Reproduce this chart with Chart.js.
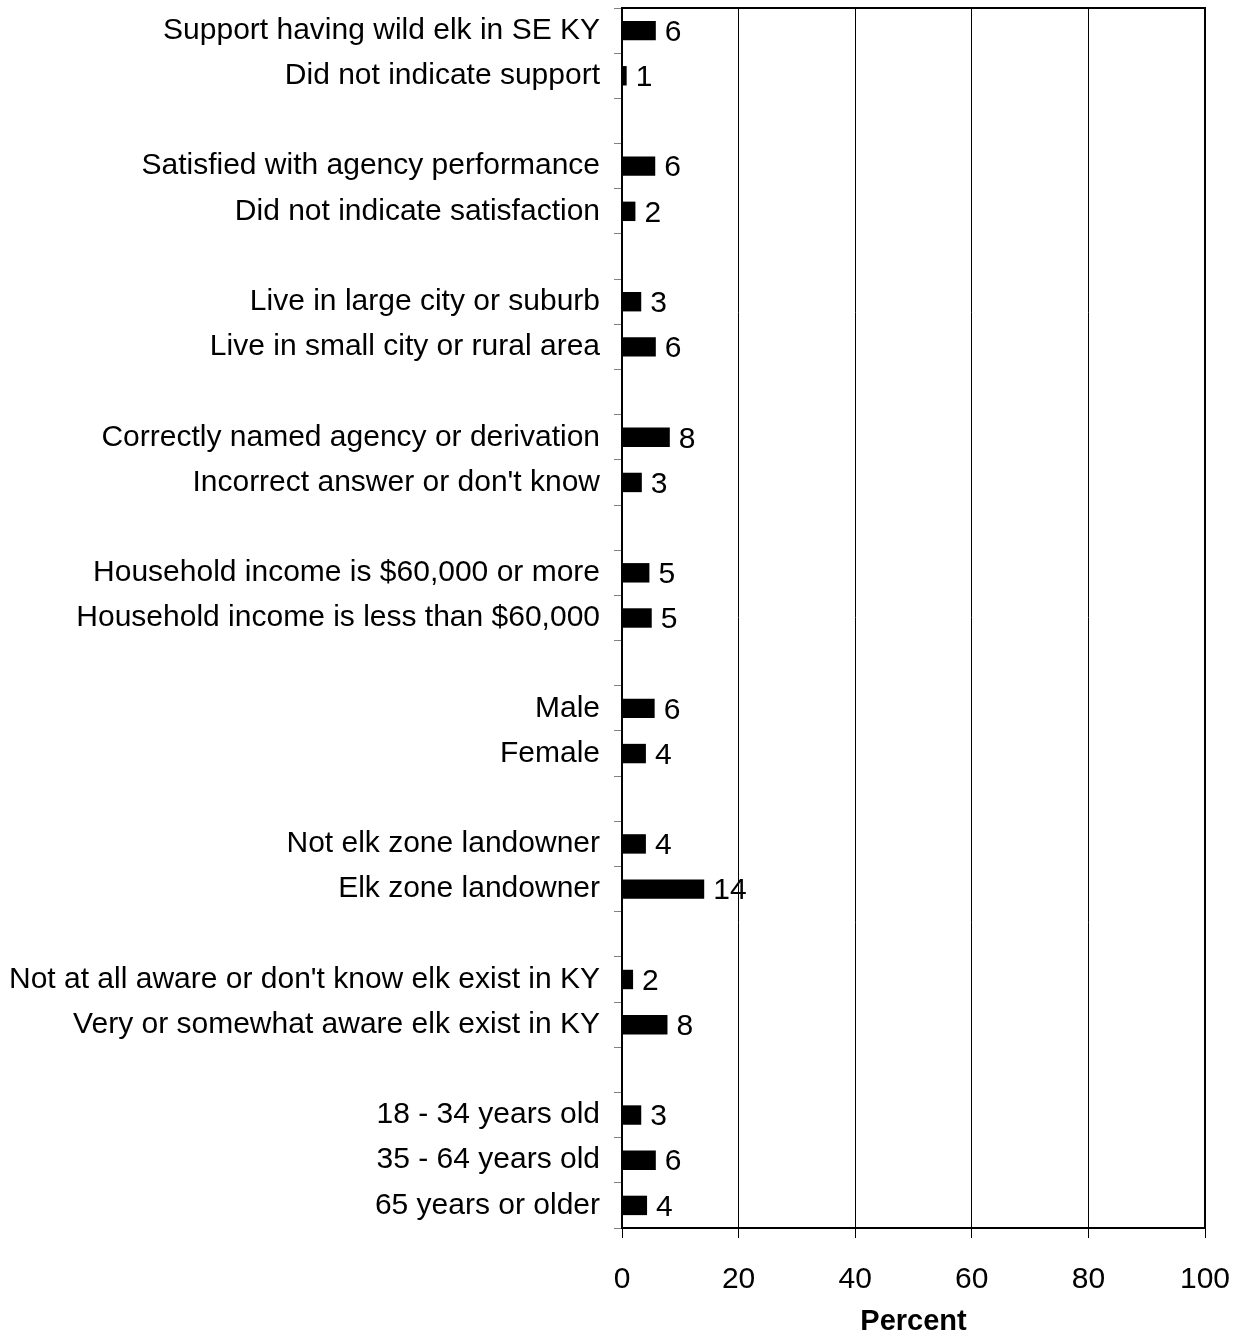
<!DOCTYPE html>
<html>
<head>
<meta charset="utf-8">
<script src="https://cdn.jsdelivr.net/npm/chart.js@4/dist/chart.umd.min.js"></script>
<style>
  html, body { margin:0; padding:0; background:#fff; }
  #wrap { width:1242px; height:1336px; position:relative; }
</style>
</head>
<body>
<div id="wrap"><canvas id="elkChart"></canvas></div>
<script>
// blank strings are the empty spacer rows between groups
const categories = [
  'Support having wild elk in SE KY', 'Did not indicate support', '',
  'Satisfied with agency performance', 'Did not indicate satisfaction', '',
  'Live in large city or suburb', 'Live in small city or rural area', '',
  'Correctly named agency or derivation', "Incorrect answer or don't know", '',
  'Household income is $60,000 or more', 'Household income is less than $60,000', '',
  'Male', 'Female', '',
  'Not elk zone landowner', 'Elk zone landowner', '',
  "Not at all aware or don't know elk exist in KY", 'Very or somewhat aware elk exist in KY', '',
  '18 - 34 years old', '35 - 64 years old', '65 years or older'
];
const percents = [
  5.8, 0.8, null,
  5.7, 2.3, null,
  3.3, 5.8, null,
  8.2, 3.4, null,
  4.7, 5.1, null,
  5.6, 4.1, null,
  4.1, 14.1, null,
  1.9, 7.8, null,
  3.3, 5.8, 4.3
];
const xTicks = [0, 20, 40, 60, 80, 100];

const FONT = 'Liberation Sans, Arial, Helvetica, sans-serif';
const FS = 30;

const valueLabels = {
  id: 'valueLabels',
  afterDatasetsDraw(chart) {
    const ctx = chart.ctx;
    const meta = chart.getDatasetMeta(0);
    ctx.save();
    ctx.font = FS + 'px ' + FONT;
    ctx.fillStyle = '#000';
    ctx.textAlign = 'left';
    ctx.textBaseline = 'middle';
    meta.data.forEach((bar, i) => {
      if (percents[i] == null) return;
      ctx.fillText(Math.round(percents[i]), bar.x + 9, bar.y + 2);
    });
    ctx.restore();
  }
};

const frame = {
  id: 'frame',
  afterDraw(chart) {
    const a = chart.chartArea;
    const ctx = chart.ctx;
    ctx.save();
    ctx.strokeStyle = '#000';
    ctx.lineWidth = 2;
    ctx.beginPath();
    ctx.moveTo(a.left, a.top);
    ctx.lineTo(a.right, a.top);
    ctx.lineTo(a.right, a.bottom);
    ctx.stroke();
    ctx.restore();
  }
};

new Chart(document.getElementById('elkChart'), {
  type: 'bar',
  data: {
    labels: categories,
    datasets: [{
      data: percents,
      backgroundColor: '#000',
      borderWidth: 0,
      barPercentage: 0.43,
      categoryPercentage: 1
    }]
  },
  options: {
    indexAxis: 'y',
    responsive: true,
    maintainAspectRatio: false,
    animation: false,
    layout: { padding: { top: 8, right: 37, left: 0, bottom: 0 } },
    plugins: { legend: { display: false }, tooltip: { enabled: false } },
    scales: {
      x: {
        min: 0, max: 100,
        afterBuildTicks: s => { s.ticks = xTicks.map(v => ({ value: v })); },
        afterFit: s => { s.height = 108; s.paddingLeft = 0; s.paddingRight = 0; },
        grid: { color: '#000', lineWidth: 1, tickLength: 10, drawTicks: true },
        border: { color: '#000', width: 2 },
        ticks: { color: '#000', font: { family: FONT, size: FS }, padding: 24, maxRotation: 0 },
        title: { display: true, text: 'Percent', color: '#000', font: { family: FONT, size: 29, weight: 'bold', lineHeight: 1 }, padding: { top: 10, bottom: 0 } }
      },
      y: {
        afterFit: s => { s.width = 622; s.paddingTop = 0; s.paddingBottom = 0; },
        grid: { offset: true, drawOnChartArea: false, color: '#808080', tickLength: 8 },
        border: { color: '#000', width: 2 },
        ticks: { color: '#000', font: { family: FONT, size: FS }, padding: 14, autoSkip: false }
      }
    }
  },
  plugins: [valueLabels, frame]
});
</script>
</body>
</html>
